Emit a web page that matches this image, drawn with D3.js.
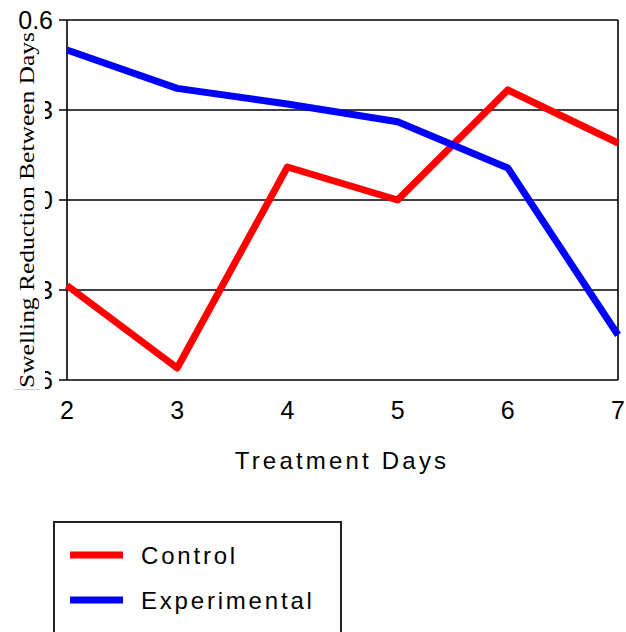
<!DOCTYPE html>
<html>
<head>
<meta charset="utf-8">
<script src="https://cdn.jsdelivr.net/npm/d3@7"></script>
<style>
body { margin: 0; background: #fff; }
svg { display: block; }
</style>
</head>
<body>
<script>
var days = [2, 3, 4, 5, 6, 7];
var control = [-0.285, -0.56, 0.11, 0.0, 0.367, 0.19];
var experimental = [0.5, 0.372, 0.32, 0.261, 0.107, -0.45];
var yTicks = [0.6, 0.3, 0, -0.3, -0.6];
var yTickLabels = ["0.6", "0.3", "0", "-0.3", "-0.6"];
var seriesNames = ["Control", "Experimental"];
var seriesColors = ["#ff0000", "#0000ff"];

var width = 626, height = 632;
var plotLeft = 67, plotTop = 20, plotRight = 618, plotBottom = 380;

var svg = d3.select("body").append("svg").attr("width", width).attr("height", height);

var x = d3.scaleLinear().domain([2, 7]).range([plotLeft, plotRight]);
var y = d3.scaleLinear().domain([-0.6, 0.6]).range([plotBottom, plotTop]);

// grid lines and frame
svg.selectAll("line.grid")
   .data(yTicks)
   .enter().append("line")
   .attr("class", "grid")
   .attr("x1", plotLeft - 8).attr("x2", plotRight)
   .attr("y1", function(d){ return y(d); })
   .attr("y2", function(d){ return y(d); })
   .attr("stroke", "#000").attr("stroke-width", 1.6);

svg.append("line").attr("x1", plotLeft).attr("x2", plotLeft).attr("y1", plotTop).attr("y2", plotBottom)
   .attr("stroke", "#000").attr("stroke-width", 1.6);
svg.append("line").attr("x1", plotRight).attr("x2", plotRight).attr("y1", plotTop).attr("y2", plotBottom)
   .attr("stroke", "#000").attr("stroke-width", 1.6);

// y tick labels
svg.selectAll("text.ytick")
   .data(yTicks)
   .enter().append("text")
   .attr("class", "ytick")
   .attr("x", 53)
   .attr("y", function(d){ return y(d) + 9; })
   .attr("text-anchor", "end")
   .attr("font-family", "Liberation Sans, Arial, sans-serif")
   .attr("font-size", 25)
   .text(function(d, i){ return yTickLabels[i]; });

// x tick labels
svg.selectAll("text.xtick")
   .data(days)
   .enter().append("text")
   .attr("class", "xtick")
   .attr("x", function(d){ return x(d); })
   .attr("y", 419)
   .attr("text-anchor", "middle")
   .attr("font-family", "Liberation Sans, Arial, sans-serif")
   .attr("font-size", 25)
   .text(function(d){ return d; });

svg.append("text")
   .attr("x", 342).attr("y", 469)
   .attr("text-anchor", "middle")
   .attr("font-family", "Liberation Sans, Arial, sans-serif")
   .attr("font-size", 24)
   .attr("letter-spacing", 3.2)
   .text("Treatment Days");

// y title sits on a white box that hides most of the tick labels
svg.append("rect").attr("x", 0).attr("y", 30).attr("width", 45).attr("height", 359).attr("fill", "#fff");
svg.append("line").attr("x1", 14).attr("x2", 40).attr("y1", 389.5).attr("y2", 389.5)
   .attr("stroke", "#ccc").attr("stroke-width", 1);
svg.append("text")
   .attr("transform", "translate(34,388) rotate(-90)")
   .attr("font-family", "Liberation Serif, Times New Roman, serif")
   .attr("font-size", 21)
   .attr("textLength", 356)
   .attr("lengthAdjust", "spacingAndGlyphs")
   .text("Swelling Reduction Between Days");

// lines
var line = d3.line()
   .x(function(d, i){ return x(days[i]); })
   .y(function(d){ return y(d); });

svg.selectAll("path.series")
   .data([control, experimental])
   .enter().append("path")
   .attr("class", "series")
   .attr("fill", "none")
   .attr("stroke", function(d, i){ return seriesColors[i]; })
   .attr("stroke-width", 7)
   .attr("stroke-linejoin", "round")
   .attr("d", line);

// legend
var legend = svg.append("g");
legend.append("rect")
   .attr("x", 54).attr("y", 522).attr("width", 287).attr("height", 130)
   .attr("fill", "none").attr("stroke", "#222").attr("stroke-width", 2);

legend.selectAll("line.key")
   .data(seriesNames)
   .enter().append("line")
   .attr("class", "key")
   .attr("x1", 70).attr("x2", 123)
   .attr("y1", function(d, i){ return 555 + i * 45; })
   .attr("y2", function(d, i){ return 555 + i * 45; })
   .attr("stroke", function(d, i){ return seriesColors[i]; })
   .attr("stroke-width", 7);

legend.selectAll("text.key")
   .data(seriesNames)
   .enter().append("text")
   .attr("class", "key")
   .attr("x", 141)
   .attr("y", function(d, i){ return 564 + i * 45; })
   .attr("font-family", "Liberation Sans, Arial, sans-serif")
   .attr("font-size", 24)
   .attr("letter-spacing", 2.8)
   .text(function(d){ return d; });
</script>
</body>
</html>
